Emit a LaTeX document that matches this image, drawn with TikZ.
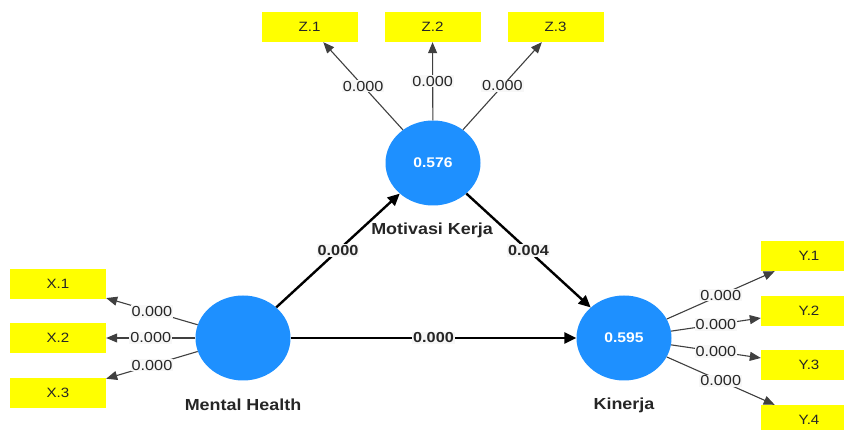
\documentclass[tikz,border=0pt]{standalone}
\usepackage{fontspec}
\setmainfont[FakeStretch=1.12]{Liberation Sans}
\usetikzlibrary{shapes.geometric,arrows.meta}
\definecolor{lvblue}{HTML}{1E90FF}
\definecolor{indyellow}{HTML}{FFFF00}
\begin{document}
\begin{tikzpicture}[x=1pt,y=-1pt,
 lv/.style={ellipse, fill=lvblue, minimum width=95pt, minimum height=85pt, inner sep=0pt, text=white, font=\fontsize{14}{16}\selectfont\bfseries},
 ind/.style={rectangle, fill=indyellow, minimum width=96pt, minimum height=30pt, inner sep=0pt, text=black!85, font=\fontsize{13.5}{15}\selectfont},
 load/.style={draw=black!75, line width=1.1pt, -{Triangle[length=11pt,width=9pt]}},
 pth/.style={draw=black, line width=2.4pt, -{Triangle[length=12pt,width=11pt]}},
 llab/.style={fill=white!97!black, inner sep=1pt, font=\fontsize{14.5}{16}\selectfont, text=black!85},
 plab/.style={fill=white!97!black, inner sep=1pt, font=\fontsize{14.5}{16}\selectfont\bfseries, text=black!85},
 lvname/.style={font=\fontsize{16}{18}\selectfont\bfseries, text=black!85}]
\useasboundingbox (0,0) rectangle (844,430);
\fill[white] (0,0) rectangle (844,430);
% latent variables
\node[lv] (MK) at (433,163) {0.576};
\node[lv] (MH) at (243,338) {};
\node[lv] (KI) at (624,338) {0.595};
\node[lvname] (MKn) at (432,230) {Motivasi Kerja};
\node[lvname] (MHn) at (243,405) {Mental Health};
\node[lvname] (KIn) at (624,405) {Kinerja};
% indicators
\node[ind] (Z1) at (309.5,27) {Z.1};
\node[ind] (Z2) at (432.5,27) {Z.2};
\node[ind] (Z3) at (555.5,27) {Z.3};
\node[ind] (X1) at (58,284) {X.1};
\node[ind] (X2) at (58,338) {X.2};
\node[ind] (X3) at (58,393) {X.3};
\node[ind] (Y1) at (809,256) {Y.1};
\node[ind] (Y2) at (809,311) {Y.2};
\node[ind] (Y3) at (809,365) {Y.3};
\node[ind] (Y4) at (809,420) {Y.4};
% loadings
\draw[load] (MK) -- node[llab]{0.000} (Z1);
\draw[load] (MK) -- node[llab]{0.000} (Z2);
\draw[load] (MK) -- node[llab]{0.000} (Z3);
\draw[load] (MH) -- node[llab]{0.000} (X1);
\draw[load] (MH) -- node[llab]{0.000} (X2);
\draw[load] (MH) -- node[llab]{0.000} (X3);
\draw[load] (KI) -- node[llab]{0.000} (Y1);
\draw[load] (KI) -- node[llab]{0.000} (Y2);
\draw[load] (KI) -- node[llab]{0.000} (Y3);
\draw[load] (KI) -- node[llab]{0.000} (Y4);
% structural paths
\draw[pth] (MH) -- node[plab]{0.000} (MK);
\draw[pth] (MK) -- node[plab]{0.004} (KI);
\draw[pth] (MH) -- node[plab]{0.000} (KI);
\end{tikzpicture}
\end{document}
